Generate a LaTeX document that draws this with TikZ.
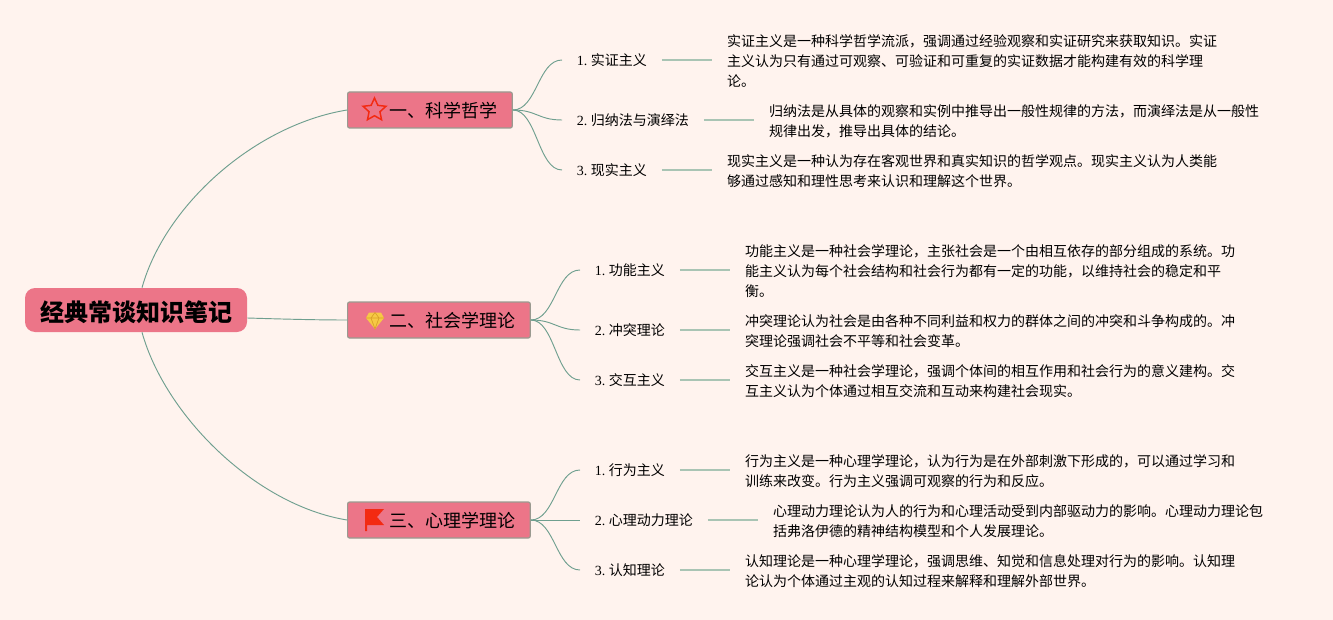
\documentclass[tikz,border=0pt]{standalone}
\usepackage{fontspec}
\setmainfont{Liberation Serif}
\newfontfamily\cjk{Noto Sans CJK SC}
\usetikzlibrary{positioning,shapes.geometric}
\definecolor{bgcol}{HTML}{FFF3EE}
\definecolor{nodecol}{HTML}{EC7588}
\definecolor{edgecol}{HTML}{9A9A90}
\definecolor{linecol}{HTML}{6F9F8F}
\definecolor{stubcol}{HTML}{A9C4B4}
\definecolor{gemcol}{HTML}{F6C945}
\definecolor{gemline}{HTML}{D9A028}
\definecolor{flagcol}{HTML}{F32A12}

\begin{document}
\begin{tikzpicture}[x=.75pt,y=-.75pt,
    root node/.style={rounded corners=7.5pt,fill=nodecol,inner xsep=0pt,minimum width=166.5pt,minimum height=33pt,text height=17pt,text depth=.4pt,font=\cjk\fontsize{18}{20}\selectfont\bfseries},
    branch node/.style={rounded corners=1.5pt,fill=nodecol,draw=edgecol,line width=.9pt,anchor=west,inner xsep=11pt,minimum height=27pt,text height=12.6pt,text depth=.9pt,font=\cjk\fontsize{13.5}{16}\selectfont,execute at begin node=\hspace*{20.5pt}},
    leaf node/.style={anchor=west,inner xsep=11pt,inner ysep=0pt,font=\fontsize{10.5}{15}\selectfont,text height=10pt,text depth=1.5pt},
    note node/.style={right=37.5pt of #1,anchor=west,yshift=-1.1pt,inner xsep=11.25pt,inner ysep=0pt,align=left,font=\cjk\fontsize{10.5}{15}\selectfont},
    curve/.style={linecol,line width=.7pt},
    stub/.style={stubcol,line width=1.2pt}]

\path[fill=bgcol,use as bounding box] (0,0) rectangle (1333,620);

\node[root node]   (root) at (136,310) {经典常谈知识笔记};

% first branch
\node[branch node] (b1)   at (347,110) {一、科学哲学};
\node[leaf node]   (l11)  at (562,60)  {1.\hspace{2.65pt}\cjk 实证主义};
\node[leaf node]   (l12)  at (562,120) {2.\hspace{2.65pt}\cjk 归纳法与演绎法};
\node[leaf node]   (l13)  at (562,170) {3.\hspace{2.65pt}\cjk 现实主义};
\node[note node=l11] (t11) {实证主义是一种科学哲学流派，强调通过经验观察和实证研究来获取知识。实证\\主义认为只有通过可观察、可验证和可重复的实证数据才能构建有效的科学理\\论。};
\node[note node=l12] (t12) {归纳法是从具体的观察和实例中推导出一般性规律的方法，而演绎法是从一般性\\规律出发，推导出具体的结论。};
\node[note node=l13] (t13) {现实主义是一种认为存在客观世界和真实知识的哲学观点。现实主义认为人类能\\够通过感知和理性思考来认识和理解这个世界。};

% second branch
\node[branch node] (b2)   at (347,320) {二、社会学理论};
\node[leaf node]   (l21)  at (580,270) {1.\hspace{2.65pt}\cjk 功能主义};
\node[leaf node]   (l22)  at (580,330) {2.\hspace{2.65pt}\cjk 冲突理论};
\node[leaf node]   (l23)  at (580,380) {3.\hspace{2.65pt}\cjk 交互主义};
\node[note node=l21] (t21) {功能主义是一种社会学理论，主张社会是一个由相互依存的部分组成的系统。功\\能主义认为每个社会结构和社会行为都有一定的功能，以维持社会的稳定和平\\衡。};
\node[note node=l22] (t22) {冲突理论认为社会是由各种不同利益和权力的群体之间的冲突和斗争构成的。冲\\突理论强调社会不平等和社会变革。};
\node[note node=l23] (t23) {交互主义是一种社会学理论，强调个体间的相互作用和社会行为的意义建构。交\\互主义认为个体通过相互交流和互动来构建社会现实。};

% third branch
\node[branch node] (b3)   at (347,520) {三、心理学理论};
\node[leaf node]   (l31)  at (580,470) {1.\hspace{2.65pt}\cjk 行为主义};
\node[leaf node]   (l32)  at (580,520) {2.\hspace{2.65pt}\cjk 心理动力理论};
\node[leaf node]   (l33)  at (580,570) {3.\hspace{2.65pt}\cjk 认知理论};
\node[note node=l31] (t31) {行为主义是一种心理学理论，认为行为是在外部刺激下形成的，可以通过学习和\\训练来改变。行为主义强调可观察的行为和反应。};
\node[note node=l32] (t32) {心理动力理论认为人的行为和心理活动受到内部驱动力的影响。心理动力理论包\\括弗洛伊德的精神结构模型和个人发展理论。};
\node[note node=l33] (t33) {认知理论是一种心理学理论，强调思维、知觉和信息处理对行为的影响。认知理\\论认为个体通过主观的认知过程来解释和理解外部世界。};

% icons
\node[star,star points=5,star point ratio=2.1,draw=flagcol,line width=1.1pt,fill=nodecol,inner sep=0pt,minimum size=18pt] (staricon) at (374.5,110) {};
\fill[gemcol] (369,312.5) -- (381,312.5) -- (384,318) -- (375,329) -- (366,318) -- cycle;
\draw[gemline,line width=.5pt] (366,318) -- (384,318) (371,318) -- (375,329) -- (379,318) (371,318) -- (375,312.5) -- (379,318);
\fill[flagcol] (365,509) -- (384,509) -- (377,517) -- (384,525) -- (367,525) -- (367,531) -- (365,531) -- cycle;

% connectors
\draw[curve] ([xshift=4.5pt]root.north) .. controls (165,205) and (255,125) .. (b1.west);
\draw[curve] ([yshift=-6pt]root.east) .. controls (280,319) and (315,320) .. (b2.west);
\draw[curve] ([xshift=4.5pt]root.south) .. controls (165,415) and (255,505) .. (b3.west);
\foreach \b/\l in {b1/l11,b1/l12,b1/l13,b2/l21,b2/l22,b2/l23,b3/l31,b3/l32,b3/l33}
    \draw[curve] (\b.east) .. controls +(24,0) and +(-24,0) .. (\l.west);
\foreach \n in {11,12,13,21,22,23,31,32,33}
    \draw[stub] (l\n.east) -- (l\n.east -| t\n.west);
\end{tikzpicture}
\end{document}
